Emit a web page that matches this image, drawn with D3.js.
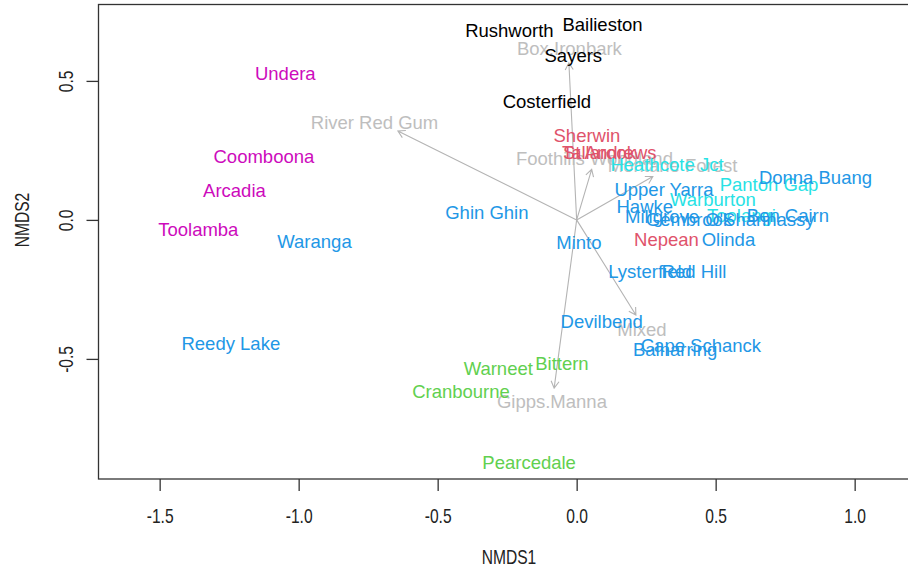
<!DOCTYPE html>
<html>
<head>
<meta charset="utf-8">
<script src="https://cdn.jsdelivr.net/npm/d3@7"></script>
<style>
    body {margin:0;background:#fff;}
    text {font-family:"Liberation Sans",Arial,sans-serif;}
</style>
</head>
<body>
<div id="nmds"></div>
<script>
// site scores (NMDS1, NMDS2) and their group
const siteNames = ["Rushworth","Bailieston","Sayers","Costerfield",
    "Sherwin","Tallarook","St Andrews","Nepean",
    "Heathcote Jct","Panton Gap","Warburton","Toolangi",
    "Donna Buang","Upper Yarra","Hawke","Millgrove","Ben Cairn","Gembrook","O'Shannassy",
    "Olinda","Minto","Lysterfield","Red Hill","Devilbend","Cape Schanck","Balnarring",
    "Ghin Ghin","Waranga","Reedy Lake",
    "Undera","Coomboona","Arcadia","Toolamba",
    "Warneet","Bittern","Cranbourne","Pearcedale"];
const siteX = [-0.242,0.093,-0.012,-0.107,
    0.037,0.080,0.119,0.323,
    0.325,0.692,0.490,0.593,
    0.859,0.314,0.245,0.307,0.760,0.404,0.659,
    0.546,0.008,0.264,0.422,0.090,0.447,0.354,
    -0.323,-0.943,-1.244,
    -1.048,-1.125,-1.231,-1.361,
    -0.282,-0.053,-0.416,-0.171];
const siteY = [0.683,0.704,0.591,0.425,
    0.302,0.244,0.244,-0.072,
    0.199,0.127,0.075,0.014,
    0.153,0.111,0.049,0.013,0.014,0.001,0.000,
    -0.072,-0.083,-0.184,-0.184,-0.366,-0.453,-0.468,
    0.025,-0.078,-0.444,
    0.525,0.227,0.104,-0.033,
    -0.534,-0.518,-0.618,-0.873];
const siteGroup = [1,1,1,1,
    2,2,2,2,
    5,5,5,5,
    4,4,4,4,4,4,4,
    4,4,4,4,4,4,4,
    4,4,4,
    6,6,6,6,
    3,3,3,3];
const groupColours = {1:"#000000",2:"#DF536B",3:"#61D04F",4:"#2297E6",5:"#28E2E5",6:"#CD0BBC"};

// fitted vectors: arrow tips and label positions
const envNames = ["River Red Gum","Box.Ironbark","Foothills Woodland","Montane Forest","Mixed","Gipps.Manna"];
const envX = [-0.643,-0.028,0.054,0.274,0.213,-0.081];
const envY = [0.320,0.565,0.182,0.156,-0.342,-0.605];
const envLabelX = [-0.727,-0.026,0.064,0.345,0.235,-0.089];
const envLabelY = [0.351,0.615,0.222,0.194,-0.396,-0.654];

const xTicks = [-1.5,-1.0,-0.5,0.0,0.5,1.0];
const yTicks = [-0.5,0.0,0.5];

const width = 908;
const height = 569;
const plotLeft = 98.5, plotTop = 4.5, plotBottom = 479;
const unit = 278;

const xScale = d3.scaleLinear().domain([-1.72,1.23]).range([plotLeft,plotLeft+2.95*unit]);
const yScale = d3.scaleLinear().domain([-0.932,0.775]).range([plotBottom,plotBottom-1.707*unit]);
const fmt = (d) => d3.format(".1f")(d).replace("−","-");

const svg = d3.select("#nmds")
    .append("svg")
    .attr("width",width)
    .attr("height",height);

// box
svg.append("rect")
    .attr("x",plotLeft)
    .attr("y",plotTop)
    .attr("width",xScale.range()[1]-plotLeft)
    .attr("height",plotBottom-plotTop)
    .attr("fill","none")
    .attr("stroke","#333")
    .attr("stroke-width",1.3);

// x axis
const xAxis = svg.append("g")
    .attr("transform",`translate(0,${plotBottom})`)
    .call(d3.axisBottom(xScale).tickValues(xTicks).tickSize(12).tickFormat(fmt));
xAxis.select(".domain").remove();
xAxis.selectAll(".tick line").attr("stroke","#333").attr("stroke-width",1.3);
xAxis.selectAll(".tick text")
    .attr("y",0)
    .attr("dy",0)
    .attr("fill","#222")
    .style("font-size","20px")
    .attr("transform","translate(0,44) scale(0.78,1)");

// y axis
const yAxis = svg.append("g")
    .attr("transform",`translate(${plotLeft},0)`)
    .call(d3.axisLeft(yScale).tickValues(yTicks).tickSize(12).tickFormat(fmt));
yAxis.select(".domain").remove();
yAxis.selectAll(".tick line").attr("stroke","#333").attr("stroke-width",1.3);
yAxis.selectAll(".tick text")
    .attr("x",0)
    .attr("dy",0)
    .attr("fill","#222")
    .attr("text-anchor","middle")
    .style("font-size","20px")
    .attr("transform","translate(-26,0) rotate(-90) scale(0.78,1)");

svg.append("text")
    .attr("transform","translate(509,564) scale(0.78,1)")
    .attr("text-anchor","middle")
    .attr("fill","#222")
    .style("font-size","20px")
    .text("NMDS1");

svg.append("text")
    .attr("transform","translate(29,220) rotate(-90) scale(0.78,1)")
    .attr("text-anchor","middle")
    .attr("fill","#222")
    .style("font-size","20px")
    .text("NMDS2");

// arrows from the origin
const arrowPath = (i) =>
{
    const x0 = xScale(0), y0 = yScale(0);
    const x1 = xScale(envX[i]), y1 = yScale(envY[i]);
    const a = Math.atan2(y1-y0,x1-x0);
    const h = 8, s = Math.PI/6;
    return `M${x0},${y0}L${x1},${y1}`+
        `M${x1-h*Math.cos(a-s)},${y1-h*Math.sin(a-s)}L${x1},${y1}L${x1-h*Math.cos(a+s)},${y1-h*Math.sin(a+s)}`;
};

svg.selectAll(".arrow")
    .data(envNames)
    .enter()
    .append("path")
    .attr("class","arrow")
    .attr("d",(d,i)=>arrowPath(i))
    .attr("fill","none")
    .attr("stroke","#b4b4b4")
    .attr("stroke-width",1.1);

svg.selectAll(".env")
    .data(envNames)
    .enter()
    .append("text")
    .attr("class","env")
    .attr("x",(d,i)=>xScale(envLabelX[i]))
    .attr("y",(d,i)=>yScale(envLabelY[i]))
    .attr("dy","0.35em")
    .attr("text-anchor","middle")
    .attr("fill","#bebebe")
    .style("font-size","18.5px")
    .text(d=>d);

// site labels
svg.selectAll(".site")
    .data(siteNames)
    .enter()
    .append("text")
    .attr("class","site")
    .attr("x",(d,i)=>xScale(siteX[i]))
    .attr("y",(d,i)=>yScale(siteY[i]))
    .attr("dy","0.35em")
    .attr("text-anchor","middle")
    .attr("fill",(d,i)=>groupColours[siteGroup[i]])
    .style("font-size","18.5px")
    .text(d=>d);
</script>
</body>
</html>
